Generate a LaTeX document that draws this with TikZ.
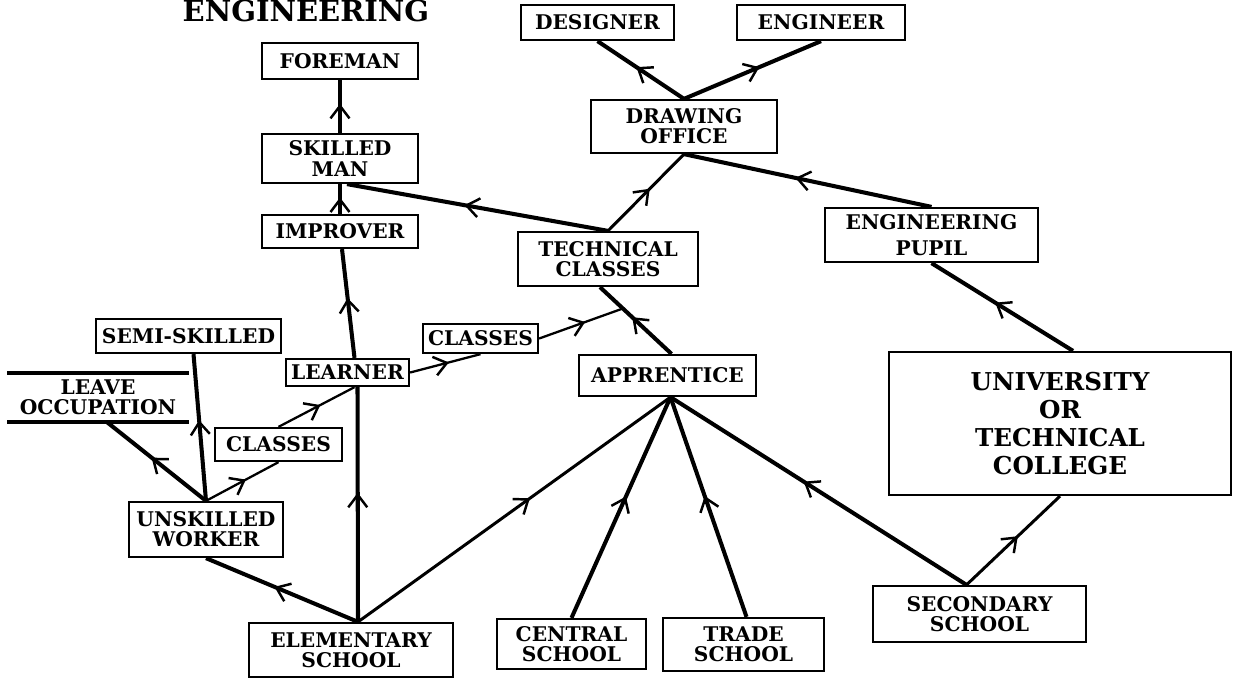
\documentclass[tikz,border=0pt]{standalone}
\usepackage{fontspec}
\setmainfont{DejaVu Serif}
\usetikzlibrary{positioning, calc, arrows.meta, decorations.markings}
\tikzstyle{box} = [rectangle, draw=black, line width=1.3pt, fill=white, align=center, inner sep=1pt, font=\bfseries\fontsize{11.5}{11.5}\selectfont]
\tikzstyle{flow} = [postaction={decorate}, decoration={markings, mark=at position 0.55 with {\arrow{Straight Barb[length=2.5mm, width=3.8mm, line width=1.4pt]}}}]
\tikzstyle{arrow} = [line width=2.3pt, flow]
\tikzstyle{midarrow} = [line width=1.7pt, flow]
\tikzstyle{thinarrow} = [line width=1.3pt, flow]

\begin{document}
\begin{tikzpicture}[x=0.02cm, y=-0.02cm, node distance=1.5cm]
  \useasboundingbox (0,0) rectangle (1233,681);
  \node (title) [anchor=base, font=\bfseries\fontsize{16.5}{16.5}\selectfont] at (306,21) {ENGINEERING};
  % left column
  \node (fore) [box, minimum width=3.12cm, minimum height=0.72cm] at (340,61) {FOREMAN};
  \node (skill) [box, below of=fore, yshift=-0.45cm, minimum width=3.12cm, minimum height=0.98cm] {SKILLED\\MAN};
  \node (impr) [box, below of=skill, yshift=0.04cm, minimum width=3.12cm, minimum height=0.66cm] {IMPROVER};
  \node (learn) [box, minimum width=2.46cm, minimum height=0.54cm] at (347.5,372.5) {LEARNER};
  \node (semi) [box, minimum width=3.7cm, minimum height=0.68cm] at (188.5,336) {SEMI-SKILLED};
  \node (leave) [box, draw=none, fill=none, minimum width=3.58cm, minimum height=0.94cm] at (98,397.5) {LEAVE\\OCCUPATION};
  \node (cls1) [box, minimum width=2.54cm, minimum height=0.66cm] at (278.5,444.5) {CLASSES};
  \node (unsk) [box, minimum width=3.08cm, minimum height=1.1cm] at (206,529.5) {UNSKILLED\\WORKER};
  \node (elem) [box, minimum width=4.08cm, minimum height=1.08cm] at (351,650) {ELEMENTARY\\SCHOOL};
  % middle
  \node (desg) [box, minimum width=3.06cm, minimum height=0.7cm] at (597.5,22.5) {DESIGNER};
  \node (engr) [box, minimum width=3.36cm, minimum height=0.7cm] at (821,22.5) {ENGINEER};
  \node (office) [box, minimum width=3.72cm, minimum height=1.06cm] at (684,126.5) {DRAWING\\OFFICE};
  \node (tech) [box, minimum width=3.6cm, minimum height=1.08cm] at (608,259) {TECHNICAL\\CLASSES};
  \node (cls2) [box, minimum width=2.3cm, minimum height=0.58cm] at (480.5,338.5) {CLASSES};
  \node (appr) [box, minimum width=3.54cm, minimum height=0.82cm] at (667.5,375.5) {APPRENTICE};
  \node (cent) [box, minimum width=2.98cm, minimum height=1.0cm] at (571.5,644) {CENTRAL\\SCHOOL};
  \node (trade) [box, minimum width=3.22cm, minimum height=1.06cm] at (743.5,644.5) {TRADE\\SCHOOL};
  % right
  \node (pupil) [box, minimum width=4.26cm, minimum height=1.08cm] at (931.5,235) {ENGINEERING\\[3pt]PUPIL};
  \node (univ) [box, minimum width=6.84cm, minimum height=2.86cm, font=\bfseries\fontsize{14}{16}\selectfont] at (1060,423.5) {UNIVERSITY\\OR\\TECHNICAL\\COLLEGE};
  \node (sec) [box, minimum width=4.26cm, minimum height=1.12cm] at (979.5,614) {SECONDARY\\SCHOOL};

  \draw [line width=2pt] (leave.north west) -- (leave.north east);
  \draw [line width=2pt] (leave.south west) -- (leave.south east);

  \coordinate (appr top) at ($(appr.north)+(4,0)$);
  \coordinate (tech bot) at ($(tech.south)+(-8,0)$);

  % connectors
  \draw [arrow] (skill) -- (fore);
  \draw [arrow] (impr) -- (skill);
  \draw [arrow] ($(learn.north)+(7,0)$) -- ($(impr.south)+(2,0)$);
  \draw [arrow] ($(elem.north)+(7,0)$) -- ($(learn.south)+(10,0)$);
  \draw [arrow] ($(elem.north)+(7,0)$) -- (unsk.south);
  \draw [midarrow] ($(elem.north)+(7,0)$) -- ($(appr.south)+(3,0)$);
  \draw [arrow] (cent.north) -- ($(appr.south)+(3,0)$);
  \draw [arrow] ($(trade.north)+(3,0)$) -- ($(appr.south)+(3,0)$);
  \draw [arrow] ($(sec.north)+(-13,0)$) -- ($(appr.south)+(3,0)$);
  \draw [midarrow] ($(sec.north)+(-13,0)$) -- (univ.south);
  \draw [arrow] ($(univ.north)+(13,0)$) -- (pupil.south);
  \draw [arrow] (pupil.north) -- (office.south);
  \draw [midarrow] (tech.north) -- (office.south);
  \draw [arrow] (tech.north) -- ($(skill.south)+(7,0)$);
  \draw [arrow] (office.north) -- (desg.south);
  \draw [arrow] (office.north) -- (engr.south);
  \draw [arrow] (appr top) -- (tech bot);
  \draw [thinarrow] (learn.east) -- (cls2.south);
  \draw [thinarrow] (cls2.east) -- ($(appr top)!0.68!(tech bot)$);
  \draw [thinarrow] (unsk.north) -- (cls1.south);
  \draw [thinarrow] (cls1.north) -- ($(learn.south)+(7,0)$);
  \draw [arrow] (unsk.north) -- ($(semi.south)+(5,0)$);
  \draw [arrow] (unsk.north) -- ($(leave.south)+(9,0)$);
\end{tikzpicture}
\end{document}
